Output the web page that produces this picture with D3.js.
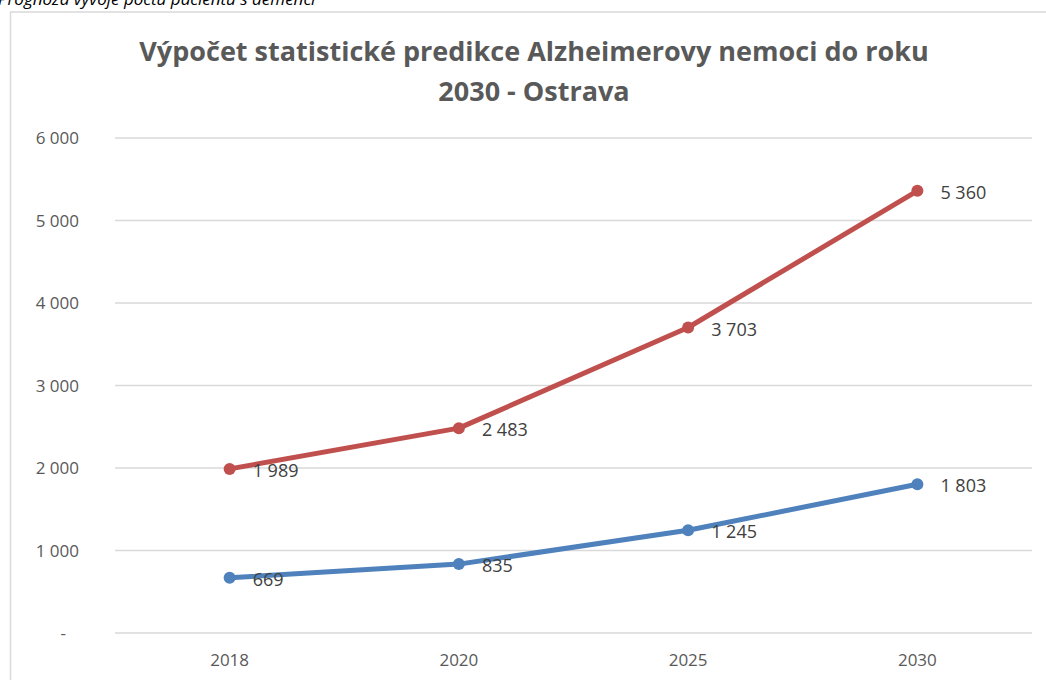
<!DOCTYPE html>
<meta charset="utf-8">
<head>
  <script src="https://d3js.org/d3.v7.min.js"></script>
  <style>
    body { margin: 0; background: #fff; font-family: "Open Sans", sans-serif; }
    .grid line { stroke: #d9d9d9; stroke-width: 1.5; }
    .tick-label { fill: #595959; font-size: 17px; }
    .data-label { fill: #404040; font-size: 18px; }
  </style>
</head>
<body>
<div id="chart"></div>
<script>
// chart values
var years = ["2018", "2020", "2025", "2030"];
var highValues = [1989, 2483, 3703, 5360];
var lowValues = [669, 835, 1245, 1803];
var yTicks = [0, 1000, 2000, 3000, 4000, 5000, 6000];
var title = ["Výpočet statistické predikce Alzheimerovy nemoci do roku", "2030 - Ostrava"];
var caption = "Prognóza vývoje počtu pacientů s demencí";

var width = 1046, height = 680;
var plot = {left: 115, right: 1032, top: 138, bottom: 633};

var svg = d3.select("#chart").append("svg")
  .attr("width", width)
  .attr("height", height);

// caption, cut off at the top like the source page
svg.append("text")
  .attr("x", -2)
  .attr("y", 5)
  .attr("font-style", "italic")
  .attr("font-size", 17)
  .attr("fill", "#000")
  .text(caption);

// chart frame
svg.append("rect")
  .attr("x", 10.5)
  .attr("y", 12)
  .attr("width", 1060)
  .attr("height", 700)
  .attr("fill", "none")
  .attr("stroke", "#d9d9d9")
  .attr("stroke-width", 1.5);

// title
svg.append("g").selectAll("text")
  .data(title)
  .enter().append("text")
  .attr("x", 534)
  .attr("y", function(d, i) { return 61 + i * 40; })
  .attr("text-anchor", "middle")
  .attr("font-size", 27)
  .attr("font-weight", "bold")
  .attr("fill", "#595959")
  .text(function(d) { return d; });

var x = d3.scalePoint()
  .domain(years)
  .range([plot.left, plot.right])
  .padding(0.5);

var y = d3.scaleLinear()
  .domain([0, 6000])
  .range([plot.bottom, plot.top]);

var fmt = function(v) {
  if (v === 0) return "-";
  return d3.format(",")(v).replace(/,/g, " ");
};

// gridlines
svg.append("g")
  .attr("class", "grid")
  .selectAll("line")
  .data(yTicks)
  .enter().append("line")
  .attr("x1", plot.left)
  .attr("x2", plot.right)
  .attr("y1", function(d) { return y(d); })
  .attr("y2", function(d) { return y(d); });

// y axis labels
svg.append("g").selectAll("text")
  .data(yTicks)
  .enter().append("text")
  .attr("class", "tick-label")
  .attr("x", function(d) { return d === 0 ? 66 : 79; })
  .attr("y", function(d) { return y(d) + 6; })
  .attr("text-anchor", "end")
  .text(fmt);

// x axis labels
svg.append("g").selectAll("text")
  .data(years)
  .enter().append("text")
  .attr("class", "tick-label")
  .attr("x", function(d) { return x(d); })
  .attr("y", 666)
  .attr("text-anchor", "middle")
  .text(function(d) { return d; });

var line = d3.line()
  .x(function(d) { return x(d.year); })
  .y(function(d) { return y(d.value); });

var series = [
  {values: highValues, color: "#C0504D"},
  {values: lowValues, color: "#4F81BD"}
];

series.forEach(function(s) {
  var pts = years.map(function(yr, i) { return {year: yr, value: s.values[i]}; });
  var g = svg.append("g");
  g.append("path")
    .datum(pts)
    .attr("d", line)
    .attr("fill", "none")
    .attr("stroke", s.color)
    .attr("stroke-width", 5)
    .attr("stroke-linejoin", "round")
    .attr("stroke-linecap", "round");
  g.selectAll("circle")
    .data(pts)
    .enter().append("circle")
    .attr("cx", function(d) { return x(d.year); })
    .attr("cy", function(d) { return y(d.value); })
    .attr("r", 6)
    .attr("fill", s.color);
  g.selectAll(".data-label")
    .data(pts)
    .enter().append("text")
    .attr("class", "data-label")
    .attr("x", function(d) { return x(d.year) + 23; })
    .attr("y", function(d) { return y(d.value) + 8; })
    .text(function(d) { return fmt(d.value); });
});
</script>
</body>
